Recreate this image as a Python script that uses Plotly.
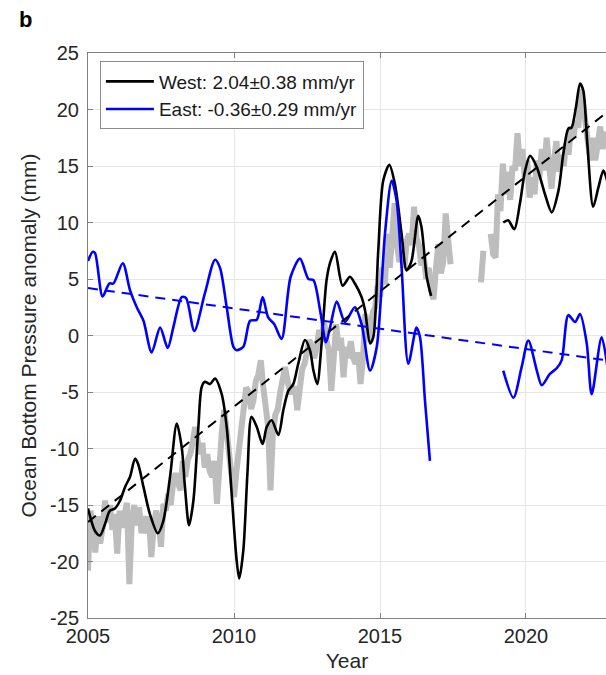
import plotly.graph_objects as go

# ---------------- data ----------------
# Gray monthly series, segment 1 (starts 2005.0, monthly)
gray1_start = 2005.0
gray1_vals = [
    -20.8, -15.5, -16.8, -19.2, -16.0, -18.4, -17.0, -14.6, -16.5, -15.0, -17.2, -15.8,   # 2005
    -19.3, -15.5, -17.0, -16.0, -14.8, -22.0, -16.5, -15.0, -16.8, -15.2, -17.5, -16.0,   # 2006
    -17.5, -16.0, -19.6, -17.0, -15.5, -16.5, -18.7, -14.9, -15.5, -14.0, -15.0, -13.0,   # 2007
    -12.2, -13.0, -13.7, -11.1, -12.5, -11.0, -10.5, -9.5, -8.1, -9.2, -10.5, -9.5,       # 2008
    -11.7, -10.5, -12.0, -12.5, -11.1, -14.9, -11.0, -8.5, -6.6, -8.5, -10.0, -12.5,      # 2009
    -14.3, -12.0, -9.9, -7.5, -5.5, -4.6, -5.0, -6.5, -5.75, -4.0, -3.5, -2.2,            # 2010
    -4.5, -6.0, -8.0, -13.7, -8.5, -7.0, -6.5, -5.0, -4.0, -2.8, -4.0, -5.0,              # 2011
    -5.0, -4.5, -6.6, -4.0, -3.0, -2.5, -1.5, -0.4, -1.0, -2.0, -1.0, 0.5,                # 2012
    -0.5, 1.3, -0.5, -1.3, -4.9, -2.0, 1.0, -1.3, -0.2, -3.7, -1.0, -2.0,                 # 2013
    -0.5, -2.0, -2.5, -1.5, -4.3, -2.0, 1.9, -0.5, 1.0, 2.0, 2.5, 4.4,                    # 2014
    3.4, 6.0, 4.5, 9.0, 6.0, 9.4, 11.7, 8.0, 6.5, 7.5, 6.0, 8.4,                          # 2015
    9.0, 8.0, 11.4, 8.6, 8.0, 6.2, 7.0, 5.0, 6.0, 4.0, 3.2, 6.0,                          # 2016
    8.1, 5.5, 6.5, 10.8, 8.6, 6.3,                                                        # 2017
]
# Gray monthly series, segment 2 (starts mid-2018, monthly, None = missing)
gray2_start = 2018.458
gray2_vals = [
    4.7, 7.5, None, None, 9.0, 7.2, 6.9, 12.5, 11.0, 15.2, 12.5, 14.5,
    12.0, 15.0, 14.6, 17.9, 15.0, 16.5, 14.0, 15.5, 12.2, 14.0, 12.5, 15.5,
    14.0, 16.5, 14.6, 17.5, 15.0, 13.0, 15.5, 17.2, 14.5, 16.0, 15.0, 17.0,
    16.0, 18.5, 17.5, 19.0, 18.4, 21.8, 20.5, 18.4, 17.0, 15.5, 17.5, 15.5,
    17.0, 18.5, 16.5, 18.0, 17.5,
]

west_year = [
    2005.0, 2005.24, 2005.41, 2005.58, 2005.75, 2005.92, 2006.1, 2006.27, 2006.44, 2006.61,
    2006.72, 2006.9, 2007.12, 2007.39, 2007.58, 2007.81, 2008.04, 2008.21, 2008.32, 2008.46,
    2008.61, 2008.78, 2008.89, 2009.0, 2009.18, 2009.35, 2009.58, 2009.75, 2009.92, 2010.09,
    2010.18, 2010.32, 2010.46, 2010.6, 2010.78, 2010.98, 2011.12, 2011.29, 2011.52, 2011.69,
    2011.86, 2012.03, 2012.2, 2012.43, 2012.6, 2012.72, 2012.85, 2013.0, 2013.17, 2013.31,
    2013.46, 2013.72, 2013.97, 2014.14, 2014.37, 2014.49, 2014.66, 2014.77, 2014.94, 2015.11,
    2015.32, 2015.51, 2015.74, 2015.91, 2016.08, 2016.31, 2016.42, 2016.6, 2016.75,
    None,
    2019.22, 2019.39, 2019.6, 2019.79, 2019.97, 2020.14, 2020.37, 2020.65, 2020.88, 2021.11,
    2021.28, 2021.45, 2021.56, 2021.71, 2021.85, 2021.96, 2022.1, 2022.3, 2022.48, 2022.65,
    2022.8,
]
west_vals = [
    -15.3, -17.3, -17.7, -16.7, -15.5, -15.3, -14.6, -13.4, -12.5, -10.9,
    -11.4, -13.4, -15.8, -17.5, -16.4, -12.5, -7.8, -9.9, -13.4, -16.8,
    -14.6, -8.1, -4.6, -4.1, -4.3, -3.8, -5.2, -8.1, -14.0, -19.9,
    -21.5, -19.0, -12.2, -7.2, -8.1, -9.6, -8.1, -7.5, -8.8, -6.6,
    -4.9, -4.3, -2.5, -0.4, -1.3, -3.1, -4.3, -0.7, 4.9, 6.6,
    7.4, 4.4, 5.2, 4.6, 3.4, 2.2, -0.7, -0.15, 7.5, 13.7,
    15.1, 13.4, 9.0, 5.75, 6.6, 10.6, 9.6, 5.2, 3.5,
    None,
    10.0, 10.2, 9.4, 11.65, 14.6, 15.9, 14.9, 12.5, 10.9, 12.8,
    16.1, 18.3, 18.4, 20.2, 22.3, 21.7, 17.0, 11.4, 13.1, 14.6,
    13.5,
]

east_year = [
    2005.0, 2005.16, 2005.24, 2005.5, 2005.73, 2005.87, 2006.19, 2006.44, 2006.67, 2006.9,
    2007.18, 2007.47, 2007.73, 2007.92, 2008.21, 2008.36, 2008.64, 2009.0, 2009.35, 2009.52,
    2009.75, 2009.98, 2010.09, 2010.32, 2010.55, 2010.78, 2010.98, 2011.17, 2011.38, 2011.63,
    2011.94, 2012.26, 2012.55, 2012.72, 2012.95, 2013.15, 2013.29, 2013.52, 2013.8, 2014.14,
    2014.37, 2014.66, 2014.89, 2015.17, 2015.4, 2015.57, 2015.74, 2015.97, 2016.25, 2016.37,
    2016.54, 2016.71,
    None,
    2019.22, 2019.57, 2019.85, 2020.08, 2020.37, 2020.54, 2020.82, 2021.05, 2021.22, 2021.45,
    2021.68, 2021.85, 2022.08, 2022.25, 2022.59, 2022.8,
]
east_vals = [
    6.6, 7.4, 7.3, 3.45, 4.6, 4.6, 6.4, 4.0, 2.5, 1.3,
    -1.5, 0.7, -1.1, 0.7, 3.4, 3.3, 0.4, 3.7, 6.7, 6.0,
    2.5, -1.0, -1.3, -1.0, 1.3, 1.4, 3.4, 1.6, 1.0, -0.3,
    5.2, 6.8, 5.0, 4.9, 2.2, -0.6, 0.7, 3.0, 1.2, 2.5,
    1.0, -3.1, -1.0, 9.0, 13.7, 11.9, 6.0, -2.5, 0.7, -0.15,
    -5.75, -11.1,
    None,
    -3.1, -5.5, -2.8, -0.44, -3.1, -4.4, -3.4, -2.9, -2.2, 1.8,
    1.2, 1.9, -0.7, -5.2, -0.15, -3.0,
]

# linear trends (mm/yr) and intercept at 2005
trend_years = [2005.0, 2023.0]
west_trend_at2005, west_rate = -16.5, 2.04
east_trend_at2005, east_rate = 4.2, -0.36

legend_west = "West: 2.04\u00b10.38 mm/yr"
legend_east = "East: -0.36\u00b10.29 mm/yr"

x_ticks = [2005, 2010, 2015, 2020]
y_ticks = [-25, -20, -15, -10, -5, 0, 5, 10, 15, 20, 25]

# ---------------- figure ----------------
gray1_x = [gray1_start + i / 12 for i in range(len(gray1_vals))]
gray2_x = [gray2_start + i / 12 for i in range(len(gray2_vals))]
gray_x = gray1_x + [None] + gray2_x
gray_y = gray1_vals + [None] + gray2_vals

FONT = "Liberation Sans, Arial, Helvetica, sans-serif"

fig = go.Figure()
fig.add_trace(go.Scatter(x=gray_x, y=gray_y, mode="lines",
                         line=dict(color="#bdbdbd", width=6),
                         connectgaps=False, showlegend=False, hoverinfo="skip"))
fig.add_trace(go.Scatter(x=west_year, y=west_vals, mode="lines", name=legend_west,
                         line=dict(color="black", width=2.6, shape="spline", smoothing=0.8),
                         connectgaps=False))
fig.add_trace(go.Scatter(x=east_year, y=east_vals, mode="lines", name=legend_east,
                         line=dict(color="#0000ff", width=2.6, shape="spline", smoothing=0.8),
                         connectgaps=False))
fig.add_trace(go.Scatter(x=trend_years,
                         y=[west_trend_at2005 + west_rate * (t - 2005) for t in trend_years],
                         mode="lines", line=dict(color="black", width=2, dash="10px,7px"),
                         showlegend=False, hoverinfo="skip"))
fig.add_trace(go.Scatter(x=trend_years,
                         y=[east_trend_at2005 + east_rate * (t - 2005) for t in trend_years],
                         mode="lines", line=dict(color="#0000ff", width=2, dash="10px,7px"),
                         showlegend=False, hoverinfo="skip"))

fig.update_layout(
    width=606, height=675,
    margin=dict(l=88, r=0, t=53, b=57),
    paper_bgcolor="white", plot_bgcolor="white",
    font=dict(family=FONT, color="#262626"),
    showlegend=True,
    legend=dict(x=0.023, y=0.985, xanchor="left", yanchor="top",
                bgcolor="white", bordercolor="#8c8c8c", borderwidth=1,
                font=dict(size=19, family=FONT, color="#1a1a1a"),
                tracegroupgap=0, itemwidth=48),
    annotations=[dict(text="<b>b</b>", xref="paper", yref="paper",
                      x=-0.137, y=1.059, xanchor="left", yanchor="middle",
                      showarrow=False, font=dict(size=22, family=FONT, color="black"))],
)
fig.update_xaxes(range=[2005, 2022.74], tickvals=x_ticks, ticktext=[str(t) for t in x_ticks],
                 showgrid=True, gridcolor="#e6e6e6", gridwidth=1,
                 showline=True, linecolor="#808080", linewidth=1, mirror="ticks",
                 ticks="inside", ticklen=5, tickcolor="#808080",
                 tickfont=dict(size=20), zeroline=False, automargin=False,
                 title=dict(text="Year", font=dict(size=21), standoff=7))
fig.update_yaxes(range=[-25, 25], tickvals=y_ticks, ticktext=[str(t) for t in y_ticks],
                 showgrid=True, gridcolor="#e6e6e6", gridwidth=1,
                 showline=True, linecolor="#808080", linewidth=1, mirror=False,
                 ticks="inside", ticklen=5, tickcolor="#808080",
                 tickfont=dict(size=20), zeroline=False, ticklabelstandoff=4, automargin=False,
                 title=dict(text="Ocean Bottom Pressure anomaly (mm)", font=dict(size=21), standoff=7))

fig.write_html("out.html", config={"displayModeBar": False},
               post_script="document.body.style.margin='0';document.body.style.overflow='hidden';")
